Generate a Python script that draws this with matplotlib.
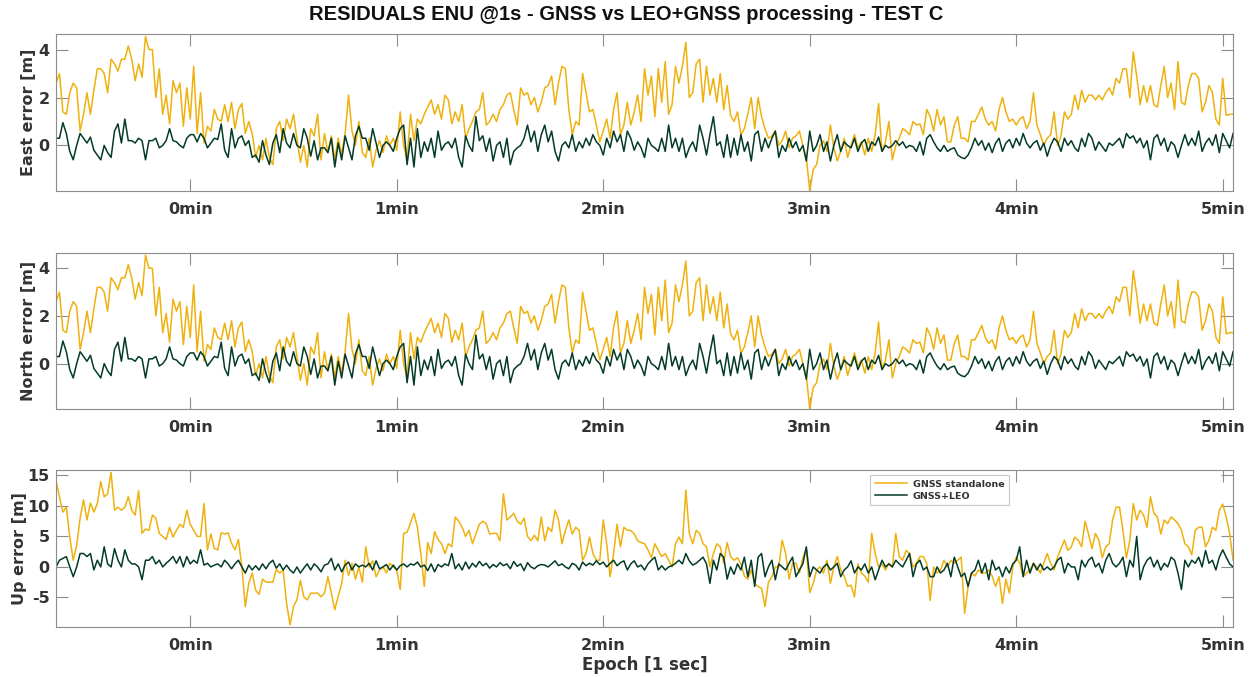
import numpy as np
from matplotlib import pyplot as plt

# epochs in seconds, one value per second (ticks are shown in minutes)
T_START = -39

# East residuals [m] (one per second)
east_gnss = [
    2.6, 3.0, 1.4, 1.3, 2.2, 2.6, 2.4, 0.6, 1.3, 2.2,
    1.3, 2.3, 3.2, 3.2, 3.0, 2.2, 3.6, 3.4, 3.1, 3.6,
    3.6, 4.15, 3.6, 2.7, 3.4, 2.85, 4.55, 4.0, 4.0, 2.0,
    3.2, 1.3, 2.1, 0.9, 2.7, 2.2, 2.6, 0.8, 2.4, 1.1,
    3.3, 0.5, 2.2, 0.1, 0.8, 0.6, 1.5, 1.1, 1.0, 1.7,
    1.0, 1.8, 0.7, 1.5, 1.75, 0.5, 1.0, 0.5, -0.5, 0.0,
    -0.6, 0.3, -0.5, -0.8, 0.7, 1.0, 0.2, 1.1, 0.7, 1.3,
    0.3, -0.7, 0.0, -0.9, 0.7, 0.4, 1.3, -0.6, 0.5, -0.3,
    0.4, -0.6, 0.3, -0.4, 0.5, 2.1, 0.6, 0.0, 1.0, -0.3,
    -0.5, 0.3, -0.9, -0.2, 0.2, -0.3, 0.4, 0.0, 0.3, -0.2,
    1.4, 0.0, -0.6, 1.3, 0.2, 1.1, 0.9, 1.3, 1.6, 1.9,
    1.3, 1.7, 1.1, 2.1, 1.9, 0.9, 1.4, 1.0, 1.7, 0.3,
    0.7, 1.0, 1.4, 1.5, 2.2, 0.85, 1.0, 1.3, 1.0, 1.5,
    1.7, 2.1, 2.2, 1.5, 0.85, 2.4, 2.1, 2.2, 1.7, 2.0,
    1.4, 1.8, 2.4, 2.5, 2.9, 1.7, 2.6, 3.3, 3.2, 1.5,
    0.45, 1.0, 0.85, 3.0, 2.2, 1.4, 1.5, 0.85, 0.15, 0.6,
    1.1, 0.3, 1.5, 2.2, 0.45, 0.85, 1.8,
    0.85, 1.4, 2.1, 1.0, 3.2, 2.1, 2.9, 1.2, 3.2, 1.8,
    3.5, 1.3, 1.7, 3.3, 2.6, 3.3, 4.3, 2.0, 2.2, 3.4,
    3.6, 1.8, 3.3, 2.1, 2.8, 1.8, 3.0, 1.5, 2.5, 1.25,
    1.0, 1.4, 0.45, 0.7, 1.3, 2.0, 0.7, 2.0, 1.2, 0.7,
    0.3, 0.4, 0.6, 0.0, 0.2, 0.6, -0.1, 0.3, 0.4, 0.6,
    0.0, -0.5, -1.9, -1.0, -0.8, 0.0, 0.2, -0.25, 0.85, -0.1,
    -0.65, -0.25, 0.3, -0.5, 0.0, 0.45, -0.1, 0.15, -0.4, 0.3,
    -0.25, 0.45, 1.75, -0.25, 0.15, 1.0, -0.6, 0.0, 0.3, 0.7,
    0.6, 0.45, 1.0, 0.85, 0.9, 0.45, 1.5, 1.2,
    0.6, 1.5, 0.85, 1.2, 0.15, 0.15, 0.85, 1.2, 0.3, 0.3,
    0.15, 1.0, 1.0, 1.3, 1.6, 1.1, 0.85, 1.0, 0.6, 1.5,
    2.0, 1.4, 1.0, 1.1, 0.85, 1.1, 1.2, 0.7, 1.0, 2.2,
    0.85, 0.45, 0.0, 0.3, 0.45, 1.4, 0.0, 0.4, 1.4, 1.1,
    1.3, 2.1, 1.5, 2.3, 1.8, 2.1, 2.1, 1.9, 2.1, 1.9,
    2.2, 2.4, 2.1, 2.8, 2.6, 3.2, 3.2, 2.0, 3.9, 2.9,
    1.7, 2.5, 1.8, 2.5, 1.7, 1.6, 2.5, 3.3, 2.0, 2.6,
    1.5, 3.5, 1.8, 1.7, 2.5, 3.0, 3.0, 2.8, 1.4, 1.8,
    2.5, 2.2, 1.1, 0.85, 2.8, 1.25, 1.3, 1.3,
]

east_leo = [
    0.3, 0.3, 0.95, 0.5, -0.25, -0.6, 0.0, 0.5, 0.3, 0.1,
    0.35, -0.2, -0.4, -0.6, 0.0, -0.3, -0.5, 0.6, 0.9, 0.1,
    1.1, 0.2, 0.2, 0.1, 0.3, 0.2, -0.6, 0.2, 0.2, 0.3,
    -0.1, 0.0, 0.2, 0.7, 0.2, 0.15, 0.0, -0.1, 0.3, 0.45,
    0.45, 0.15, 0.5, 0.3, -0.1, 0.1, 0.3, 0.25, 0.9, -0.2,
    -0.5, 0.7, -0.1, 0.3, 0.4, 0.0, 0.2, -0.5, -0.4, -0.7,
    0.2, -0.4, -0.8, 0.1, 0.45, -0.3, 0.7, 0.1, -0.1, 0.5,
    0.0, -0.1, 0.7, 0.3, -0.45, 0.2, -0.6, -0.1, -0.1, -0.3,
    0.3, -0.9, 0.1, -0.6, 0.4, -0.1, -0.6, 0.4, 0.8, 0.3,
    0.3, -0.2, 0.7, 0.1, -0.5, 0.0, 0.15, 0.0, -0.25, 0.3,
    0.7, 0.85, -0.8, 0.3, -0.9, 0.7, -0.5, 0.15, -0.25, 0.3,
    -0.5, 0.6, -0.2, 0.05, 0.15, -0.1, 0.3, -0.5, -0.9, 0.4,
    0.0, -0.25, 1.2, 0.2, 0.4, -0.25, 0.3, -0.65, 0.0, 0.15,
    -0.5, 0.3, -0.8, -0.25, -0.1, 0.0, 0.3, 0.85, 0.15, 0.6,
    -0.25, 0.45, 0.85, 0.15, 0.6, -0.25, -0.65, 0.0, 0.15, -0.1,
    0.45, -0.25, 0.15, -0.1, 0.3, 0.0, 0.45, 0.15, 0.0, -0.4,
    0.3, -0.1, 0.6, 0.15, 0.45, -0.25, 0.6,
    0.3, -0.2, 0.15, -0.1, -0.5, 0.3, 0.0, -0.1, -0.25, 0.3,
    -0.25, 0.85, -0.1, 0.3, -0.25, 0.3, -0.5, -0.1, 0.15, -0.25,
    0.85, 0.3, -0.4, 0.45, 1.2, 0.0, 0.15, -0.5, 0.45, -0.5,
    0.3, -0.4, 0.45, -0.25, 0.15, -0.65, 0.45, 0.6, -0.25, 0.3,
    -0.1, 0.3, 0.6, -0.5, 0.0, -0.25, 0.3, -0.1, 0.15, -0.25,
    0.0, -0.65, 0.6, -0.25, 0.0, 0.45, -0.25, 0.15, -0.65, 0.0,
    0.45, -0.25, 0.15, 0.0, -0.1, 0.3, -0.25, 0.1, 0.25, -0.25,
    0.15, 0.0, 0.35, -0.25, 0.0, -0.1, 0.0, 0.2, 0.0, 0.15,
    -0.1, 0.0, -0.05, -0.25, 0.15, -0.4, 0.3, 0.45,
    0.15, -0.1, -0.25, 0.0, -0.25, -0.15, -0.1, -0.4, -0.5, -0.55,
    -0.4, -0.1, 0.3, 0.0, 0.2, -0.2, 0.1, -0.3, 0.1, 0.3,
    -0.25, 0.1, 0.25, -0.1, 0.3, 0.0, 0.5, 0.1, -0.1, 0.1,
    0.2, -0.2, 0.1, -0.45, 0.0, 0.3, 0.15, -0.25, 0.3, 0.0,
    0.2, -0.1, -0.25, 0.3, -0.05, 0.5, 0.3, -0.2, 0.15, -0.05,
    -0.25, 0.1, 0.0, 0.15, 0.3, -0.1, 0.5, 0.3, 0.4, 0.1,
    0.3, -0.1, 0.2, -0.6, 0.3, 0.45, 0.0, 0.3, -0.25, 0.15,
    0.0, -0.5, 0.0, 0.45, 0.0, 0.3, 0.0, 0.6, -0.25, 0.1,
    0.3, 0.0, 0.45, -0.3, 0.5, 0.2, -0.1, 0.5,
]

# the North panel of the reference shows the very same traces as East
north_gnss = list(east_gnss)
north_leo = list(east_leo)

# Up residuals [m]
up_gnss = [
    14.2, 11.5, 9.0, 9.8, 4.9, 1.1, 3.5, 8.0, 11.0, 7.7,
    10.5, 9.0, 10.4, 14.0, 11.5, 12.0, 15.5, 9.3, 9.8, 9.3,
    9.8, 11.5, 9.3, 8.5, 12.5, 5.5, 6.2, 6.0, 8.5, 8.0,
    5.5, 5.0, 4.5, 6.5, 4.9, 6.0, 7.0, 6.5, 9.3, 7.0,
    6.0, 5.0, 5.0, 10.4, 2.8, 5.4, 3.0, 2.8, 5.6, 5.4,
    5.6, 3.9, 2.8, 4.5, 0.0, -6.5, -2.7, -1.0, -3.8, -4.5,
    -2.0, -2.5, -2.5, -2.5, -0.4, -1.0, -0.5, -6.0, -9.5, -6.5,
    -5.4, -2.2, -4.9, -5.4, -4.3, -4.3, -4.3, -4.9, -4.3, -1.6,
    -4.3, -7.0, -4.8, -2.7, 1.1, -1.4, 0.6, -2.0, 0.0, -2.5,
    3.3, 0.0, 1.0, -1.6, -0.5, 0.0, -1.0, 0.6, 0.0, -0.5,
    -3.7, 5.5, 5.7, 7.2, 8.8, 6.5, 2.2, -3.2, 4.0, 2.2,
    5.8, 4.5, 3.8, 2.2, 3.8, 3.3, 8.2, 7.5, 6.5, 5.0,
    6.0, 3.8, 5.4, 7.0, 7.5, 7.1, 5.4, 5.5, 5.5, 4.3,
    12.0, 7.7, 8.2, 8.8, 7.5, 7.0, 8.0, 5.0, 4.3, 5.2,
    4.3, 8.2, 4.3, 6.5, 5.8, 9.3, 7.7, 3.8, 6.0, 7.7,
    5.4, 6.5, 6.0, 1.1, 2.2, 4.9, 2.2, 1.1, 1.1, 7.7,
    3.8, -1.6, 2.2, 7.0, 3.3, 6.5, 6.0,
    6.0, 5.4, 4.3, 4.0, 3.8, 2.8, 1.5, 3.8, 2.7, 1.7,
    2.2, 1.1, 0.0, 3.8, 4.9, 3.8, 12.6, 5.5, 3.8, 6.0,
    5.5, 3.8, 3.3, 0.0, 2.2, 3.8, 3.3, 0.6, 4.0, 1.7,
    1.1, 1.5, 0.5, -1.5, -2.0, -0.5, -2.7, -3.2, -3.5, -6.5,
    -2.5, -1.6, 0.0, 0.0, 4.4, 2.2, -2.0, 0.6, 0.6, -1.0,
    1.5, 3.0, -4.2, -2.7, -0.5, 0.0, -1.0, 1.1, -2.7, 0.0,
    1.7, -0.5, -1.5, -3.2, -3.0, -4.9, 0.5, -1.0, -1.5, -2.5,
    5.5, 2.2, 0.0, 0.5, -0.5, 0.6, 0.0, 5.5, 1.7, 1.1,
    2.7, 2.2, 0.0, 0.6, 1.7, 1.7, 0.6, -5.5,
    0.0, -1.0, -0.5, 1.1, 0.0, 1.1, 0.6, 1.1, 1.6, -7.6,
    -3.2, -1.0, -1.5, -0.5, -1.0, -1.0, -0.5, -1.5, -3.2, -1.6,
    -6.0, -2.0, -4.3, 0.0, 1.6, 0.6, -1.6, -1.0, -0.5, 0.6,
    0.0, -1.0, 0.6, 2.2, 0.6, -0.5, 1.6, 3.0, 4.4, 2.7,
    3.3, 4.9, 4.4, 3.3, 7.5, 5.4, 3.0, 5.5, 4.4, 1.5,
    3.3, 3.8, 7.7, 9.8, 9.8, 6.0, 1.5, 4.4, 10.4, 7.7,
    9.3, 8.5, 6.5, 11.5, 8.8, 8.2, 5.4, 7.7, 7.1, 8.2,
    7.7, 7.1, 6.0, 3.8, 3.3, 2.0, 6.0, 6.5, 6.5, 3.3,
    4.4, 6.5, 6.0, 9.3, 10.3, 8.2, 5.5, 1.1,
]

up_leo = [
    0.0, 1.1, 1.4, 1.7, 0.0, -1.6, 0.0, 2.2, 2.2, 1.7,
    2.2, -0.5, 1.1, 0.0, 3.3, 0.5, 0.0, 3.0, 1.1, 0.0,
    2.8, 1.1, 0.5, 0.5, 0.0, -2.1, 1.1, 1.1, 1.7, 0.5,
    1.1, 0.0, 0.6, 1.1, 1.7, 0.6, 1.7, 0.0, 1.7, 0.5,
    1.1, 0.6, 2.8, 0.3, 0.6, 0.0, 0.3, 0.5, 0.0, 1.1,
    0.5, -0.3, 0.5, 1.1, 0.0, -1.0, 0.3, -0.5, 0.2, -0.5,
    0.5, -0.3, 0.6, 1.1, -0.2, 0.5, -0.5, 0.3, -0.5, -1.0,
    0.0, -1.0, -0.2, 0.5, -0.5, 0.5, 0.0, -0.8, 0.3, 0.5,
    1.4, -0.5, 0.5, -0.8, 0.3, 0.8, -0.5, 0.5, 0.0, 0.3,
    0.0, 0.6, -0.5, 1.0, -0.3, 0.0, 0.4, -0.5, 0.3, -0.5,
    0.2, 0.5, 0.0, 0.5, 0.3, 0.8, 0.0, 0.3, -0.6, 0.5,
    -0.8, 0.4, 0.0, 0.5, 0.2, 2.2, -0.3, 0.5, -0.5, 0.8,
    -0.3, 0.6, 0.0, 0.9, 0.2, 0.6, -0.2, 0.4, 0.0, 0.7,
    0.2, 0.5, -0.3, 0.9, 0.1, 0.5, -0.6, 0.7, 0.0, -0.3,
    0.2, 0.4, 0.3, 0.0, 0.5, 1.0, 0.2, 0.5, 0.0, -0.3,
    0.6, 0.3, -0.5, 0.8, 0.2, 0.6, 0.3, 1.0, 0.4, 0.8,
    0.0, 0.6, 1.1, 0.2, 0.7, 1.0, -0.5,
    0.5, 1.0, 0.0, 0.3, -0.5, 0.5, 1.1, 1.6, -0.5, 0.2,
    -0.5, 0.0, 0.2, 0.6, 1.1, 0.5, 2.2, 1.0, 0.3, 0.6,
    1.1, 1.6, 0.5, -2.7, 1.1, -0.5, 2.2, 1.6, -2.0, 0.0,
    -1.2, 0.5, -0.5, 1.6, -1.6, 1.1, -3.2, 1.6, 2.2, -1.6,
    0.0, 1.1, -2.1, 0.5, 0.0, -0.5, 0.6, 1.6, -1.6, -0.5,
    0.5, 3.3, -1.6, 0.0, -0.5, -1.0, 0.0, 0.5, -0.5, 0.0,
    0.6, -1.6, -0.5, 0.0, 1.0, -1.0, 0.0, -0.5, 0.5, -1.0,
    0.0, -2.1, -0.5, 1.1, 0.0, 0.5, 0.0, 1.1, 0.5, 0.0,
    1.1, 2.2, -1.6, 0.5, 1.1, -0.5, 0.0, -1.6,
    -1.6, 0.0, -1.0, -0.5, 0.6, -1.6, 1.6, 0.0, -1.6, -1.0,
    -3.2, -1.0, -0.5, 1.1, -1.0, 0.6, -2.1, 1.1, -0.5, 0.0,
    -1.6, 0.0, -1.0, 0.5, 1.1, 3.3, -1.6, 1.1, -1.0, 0.6,
    -0.5, 0.5, -0.5, 0.0, -0.5, 0.0, 1.1, 1.6, -1.0, 0.6,
    0.0, 0.0, -2.1, 1.1, 0.0, 1.1, 1.6, 0.0, 0.6, -1.0,
    1.1, 2.2, 0.6, 0.0, 0.6, 1.6, -1.6, 1.1, 0.0, 5.0,
    -2.1, 0.0, 1.1, 1.6, 0.0, 1.1, -0.5, 0.6, 0.0, 1.6,
    1.1, -1.0, -3.7, 1.1, 0.0, 1.1, 0.6, 1.6, 0.0, 2.7,
    0.6, 1.1, -0.5, 1.6, 2.8, 1.6, 0.5, 0.0,
]

minute_ticks = [0, 60, 120, 180, 240, 300]
minute_labels = ["0min", "1min", "2min", "3min", "4min", "5min"]

YELLOW = "#EFB10E"
GREEN = "#033B26"
AXIS_GRAY = "#8c8c8c"
TEXT_GRAY = "#333333"

plt.rcParams["font.family"] = "DejaVu Sans"
plt.rcParams["axes.unicode_minus"] = False


def style_axis(ax, ylabel, ylim, yticks, label_x):
    ax.set_xlim(epochs[0], epochs[-1])
    ax.set_ylim(*ylim)
    ax.set_yticks(yticks)
    ax.set_xticks(minute_ticks)
    ax.set_xticklabels(minute_labels)
    for spine in ax.spines.values():
        spine.set_color(AXIS_GRAY)
        spine.set_linewidth(0.8)
    ax.tick_params(direction="in", top=True, right=True, length=8.5, width=0.8,
                   color=AXIS_GRAY, labelcolor=TEXT_GRAY, labelsize=11.5)
    ax.tick_params(axis="x", pad=8)
    ax.tick_params(axis="y", pad=4.5)
    for lab in ax.get_xticklabels() + ax.get_yticklabels():
        lab.set_fontweight("bold")
    ax.set_ylabel(ylabel, fontsize=11.5, fontweight="bold", color=TEXT_GRAY)
    ax.yaxis.set_label_coords(label_x, 0.5)


epochs = np.arange(len(east_gnss)) + T_START

fig = plt.figure(figsize=(12.53, 6.77), dpi=100)
ax_e = fig.add_axes([0.0447, 0.7179, 0.9394, 0.2319])
ax_n = fig.add_axes([0.0447, 0.3959, 0.9394, 0.2308])
ax_u = fig.add_axes([0.0447, 0.0743, 0.9394, 0.2315])

ax_e.plot(epochs, east_gnss, color=YELLOW, lw=1.1)
ax_e.plot(epochs, east_leo, color=GREEN, lw=1.1)
style_axis(ax_e, "East error [m]", (-1.9, 4.65), [0, 2, 4], -0.017)

ax_n.plot(epochs, north_gnss, color=YELLOW, lw=1.1)
ax_n.plot(epochs, north_leo, color=GREEN, lw=1.1)
style_axis(ax_n, "North error [m]", (-1.9, 4.65), [0, 2, 4], -0.017)

ax_u.plot(epochs, up_gnss, color=YELLOW, lw=1.1, label="GNSS standalone")
ax_u.plot(epochs, up_leo, color=GREEN, lw=1.1, label="GNSS+LEO")
style_axis(ax_u, "Up error [m]", (-9.8, 15.9), [-5, 0, 5, 10, 15], -0.025)
ax_u.set_xlabel("Epoch [1 sec]", fontsize=12, fontweight="bold", color=TEXT_GRAY, labelpad=2)

leg = ax_u.legend(loc="upper left", bbox_to_anchor=(0.6916, 0.968), borderaxespad=0,
                  prop={"weight": "bold", "size": 6.8}, fancybox=False, framealpha=1,
                  edgecolor="#c8c8c8", handlelength=3.4, borderpad=0.5,
                  labelspacing=0.3, handletextpad=0.6)
leg.get_frame().set_linewidth(0.8)
for t in leg.get_texts():
    t.set_color(TEXT_GRAY)

fig.text(0.4996, 0.979, "RESIDUALS ENU @1s - GNSS vs LEO+GNSS processing - TEST C",
         ha="center", va="center", family="Liberation Sans", weight="bold",
         size=14.5, color="#111111")

fig.savefig("out.png", dpi=100)
